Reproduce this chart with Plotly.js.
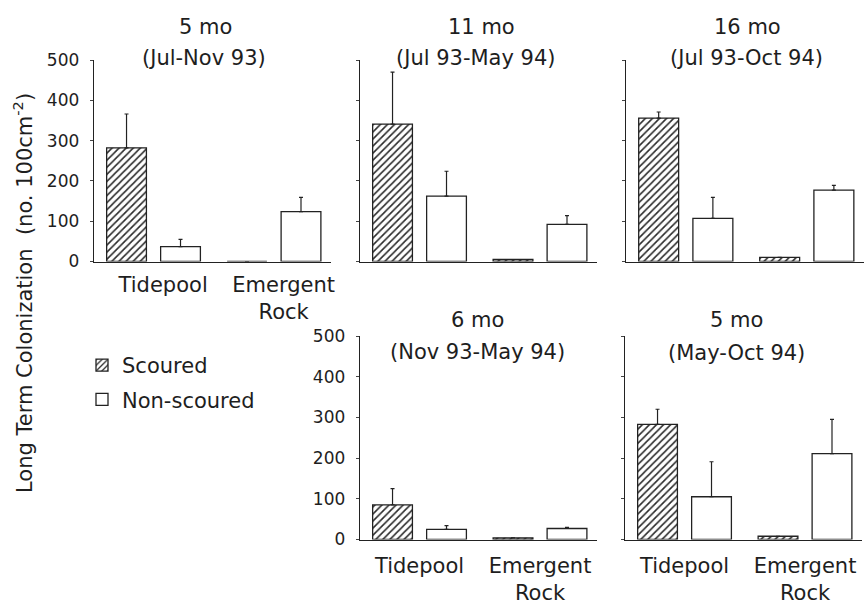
<!DOCTYPE html>
<html>
<head>
<meta charset="utf-8">
<script src="https://cdn.plot.ly/plotly-3.0.1.min.js"></script>
<style>html,body{margin:0;padding:0;background:#fff;}#chart{width:867px;height:606px;}</style>
</head>
<body>
<div id="chart"></div>
<script>
// ---- data ----
const categories = ['Tidepool', 'Emergent Rock'];
const tickLabels = ['Tidepool', 'Emergent<br>Rock'];
const panelTitles = ['5 mo', '11 mo', '16 mo', '6 mo', '5 mo'];
const panelSubtitles = ['(Jul-Nov 93)', '(Jul 93-May 94)', '(Jul 93-Oct 94)', '(Nov 93-May 94)', '(May-Oct 94)'];
const seriesNames = ['Scoured', 'Non-scoured'];
const yTicks = [0, 100, 200, 300, 400, 500];

// mean colonization per panel: [Tidepool, Emergent Rock]
const scouredMean = [[282, 0], [341, 5], [356, 10], [85, 4], [283, 8]];
const scouredErr = [[84, 0], [129, 0], [15, 0], [40, 0], [37, 0]];
const nonScouredMean = [[37, 124], [162, 92], [107, 177], [25, 27], [105, 211]];
const nonScouredErr = [[18, 35], [62, 22], [52, 12], [9, 3], [86, 84]];

// ---- layout helpers ----
const W = 867, H = 606;
const fx = p => p / W;
const fy = p => 1 - p / H;
const catPos = [0, 1];

const panels = [
  {x: [94, 331], y: [261.5, 60], ylab: true, xlab: true, tv: [0.08, 1.08], so: 4, t: [205, 27], s: [204, 57.5]},
  {x: [360, 597], y: [261.5, 60], ylab: false, xlab: false, tv: [0, 1], so: 4, t: [481, 27], s: [476, 57.5]},
  {x: [626, 864], y: [261.5, 60], ylab: false, xlab: false, tv: [0, 1], so: 4, t: [747, 27], s: [746, 57.5]},
  {x: [360, 597], y: [539.5, 336], ylab: true, xlab: true, tv: [0, 1], so: 7, t: [477, 320], s: [477, 352]},
  {x: [625, 862], y: [539.5, 336], ylab: false, xlab: true, tv: [0, 1], so: 7, t: [736, 320], s: [736, 353]}
];

const FONT = 'DejaVu Sans, Liberation Sans, Arial, sans-serif';
const INK = '#1e1e1e';

const traces = [];
const layout = {
  width: W, height: H,
  margin: {l: 0, r: 0, t: 0, b: 0},
  paper_bgcolor: '#fff', plot_bgcolor: 'rgba(0,0,0,0)',
  barmode: 'group', bargap: 0.104, bargroupgap: 0.263,
  font: {family: FONT, color: INK, size: 21},
  showlegend: true,
  legend: {x: fx(82), y: fy(345), xanchor: 'left', yanchor: 'top', bgcolor: 'rgba(0,0,0,0)',
           font: {family: FONT, size: 21, color: INK}, tracegroupgap: 4, traceorder: 'grouped'},
  annotations: [],
};

panels.forEach((p, i) => {
  const n = i + 1;
  const xa = n === 1 ? 'x' : 'x' + n;
  const ya = n === 1 ? 'y' : 'y' + n;
  const common = {type: 'bar', x: catPos, xaxis: xa, yaxis: ya, hoverinfo: 'y'};
  traces.push(Object.assign({}, common, {
    name: seriesNames[0], y: scouredMean[i], legendgroup: 'g1', showlegend: i === 0,
    marker: {color: '#fff', line: {color: '#222', width: 1.3},
             pattern: {shape: '/', size: 5, solidity: 0.32, fgcolor: '#2a2a2a', bgcolor: '#fff'}},
    error_y: {type: 'data', symmetric: false, array: scouredErr[i], arrayminus: [0, 0],
              color: '#222', thickness: 1.2, width: 2}
  }));
  traces.push(Object.assign({}, common, {
    name: seriesNames[1], y: nonScouredMean[i], legendgroup: 'g2', showlegend: i === 0,
    marker: {color: '#fff', line: {color: '#222', width: 1.3}},
    error_y: {type: 'data', symmetric: false, array: nonScouredErr[i], arrayminus: [0, 0],
              color: '#222', thickness: 1.2, width: 2}
  }));
  const xKey = n === 1 ? 'xaxis' : 'xaxis' + n;
  const yKey = n === 1 ? 'yaxis' : 'yaxis' + n;
  layout[xKey] = {
    domain: [fx(p.x[0]), fx(p.x[1])], anchor: ya, range: [-0.494, 1.473],
    showline: true, linecolor: '#222', linewidth: 1.3, showgrid: false, zeroline: false,
    ticks: '', tickmode: 'array', tickvals: p.tv, ticktext: tickLabels,
    showticklabels: p.xlab, tickfont: {family: FONT, size: 21, color: INK},
    ticklabelstandoff: p.so, fixedrange: true, automargin: false
  };
  layout[yKey] = {
    domain: [fy(p.y[0]), fy(p.y[1])], anchor: xa, range: [0, 500],
    showline: true, linecolor: '#222', linewidth: 1.3, showgrid: false, zeroline: false,
    ticks: 'outside', ticklen: 3, tickwidth: 1, tickcolor: '#444',
    tickmode: 'array', tickvals: yTicks, showticklabels: p.ylab,
    tickfont: {family: FONT, size: 17, color: INK}, ticklabelstandoff: 7,
    fixedrange: true, automargin: false
  };
  layout.annotations.push({xref: 'paper', yref: 'paper', x: fx(p.t[0]), y: fy(p.t[1]),
    xanchor: 'center', yanchor: 'middle', text: panelTitles[i], showarrow: false,
    font: {family: FONT, size: 21, color: INK}});
  layout.annotations.push({xref: 'paper', yref: 'paper', x: fx(p.s[0]), y: fy(p.s[1]),
    xanchor: 'center', yanchor: 'middle', text: panelSubtitles[i], showarrow: false,
    font: {family: FONT, size: 21, color: INK}});
});

layout.annotations.push({xref: 'paper', yref: 'paper', x: fx(23), y: fy(293),
  xanchor: 'center', yanchor: 'middle', textangle: -90, showarrow: false,
  text: 'Long Term Colonization  (no. 100cm<sup>-2</sup>)',
  font: {family: FONT, size: 21, color: INK}});

Plotly.newPlot('chart', traces, layout, {staticPlot: true, displayModeBar: false});
</script>
</body>
</html>
